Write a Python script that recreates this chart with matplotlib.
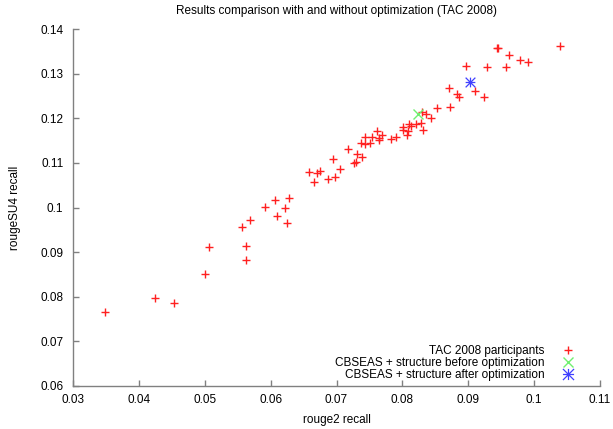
import matplotlib
matplotlib.use("Agg")
import matplotlib.pyplot as plt
from matplotlib.lines import Line2D
from matplotlib.path import Path

plt.rcParams['font.family'] = ['Liberation Sans', 'DejaVu Sans']

part_x = [0.0349, 0.0425, 0.0454, 0.0501, 0.0507, 0.0557, 0.0562, 0.0563, 0.0569, 0.0592,
          0.0606, 0.0610, 0.0622, 0.0625, 0.0628, 0.0659, 0.0670, 0.0675, 0.0666, 0.0687,
          0.0698, 0.0706, 0.0695, 0.0718, 0.0727, 0.0729, 0.0731, 0.0738, 0.0737, 0.0744,
          0.0743, 0.0751, 0.0754, 0.0761, 0.0765, 0.0764, 0.0769, 0.0782, 0.0791, 0.0801,
          0.0801, 0.0807, 0.0809, 0.0813, 0.0810, 0.0820, 0.0829, 0.0832, 0.0830, 0.0836,
          0.0843, 0.0852, 0.0873, 0.0871, 0.0883, 0.0886, 0.0910, 0.0924, 0.0897, 0.0928,
          0.0957, 0.0945, 0.0944, 0.0962, 0.0978, 0.0991, 0.1040]
part_y = [0.0765, 0.0797, 0.0786, 0.0850, 0.0912, 0.0956, 0.0914, 0.0883, 0.0973, 0.1002,
          0.1017, 0.0981, 0.0998, 0.0965, 0.1021, 0.1080, 0.1077, 0.1083, 0.1057, 0.1065,
          0.1068, 0.1086, 0.1109, 0.1131, 0.1101, 0.1103, 0.1119, 0.1114, 0.1144, 0.1158,
          0.1142, 0.1144, 0.1158, 0.1172, 0.1152, 0.1157, 0.1163, 0.1153, 0.1158, 0.1181,
          0.1174, 0.1163, 0.1172, 0.1183, 0.1187, 0.1187, 0.1189, 0.1173, 0.1215, 0.1209,
          0.1202, 0.1223, 0.1226, 0.1268, 0.1255, 0.1247, 0.1262, 0.1249, 0.1318, 0.1315,
          0.1315, 0.1359, 0.1357, 0.1342, 0.1330, 0.1326, 0.1363]
before_x = [0.0823]
before_y = [0.1209]
after_x = [0.0902]
after_y = [0.1282]

labels = ["TAC 2008 participants",
          "CBSEAS + structure before optimization",
          "CBSEAS + structure after optimization"]
title = "Results comparison with and without optimization (TAC 2008)"
xticks = [0.03, 0.04, 0.05, 0.06, 0.07, 0.08, 0.09, 0.1, 0.11]
yticks = [0.06, 0.07, 0.08, 0.09, 0.1, 0.11, 0.12, 0.13, 0.14]

fs = 8.5
fig = plt.figure(figsize=(6.13, 4.29), dpi=100)
ax = fig.add_axes([73/613, 1-385.7/429, (600-73)/613, (385.7-29.3)/429])

red = '#ff2020'
green = '#70f070'
blue = '#4040ff'
M, L = Path.MOVETO, Path.LINETO
star = Path([(-1, 0), (1, 0), (0, -1), (0, 1), (-1, -1), (1, 1), (-1, 1), (1, -1)],
            [M, L, M, L, M, L, M, L])

ax.plot(part_x, part_y, linestyle='none', marker='+', markersize=5.5, mew=1.0, color=red)
ax.plot(before_x, before_y, linestyle='none', marker='x', markersize=6.5, mew=1.0, color=green)
ax.plot(after_x, after_y, linestyle='none', marker=star, markersize=7, mew=0.9, color=blue)

ax.set_xlim(0.03, 0.11)
ax.set_ylim(0.06, 0.14)
ax.set_xticks(xticks)
ax.set_xticklabels(['%g' % v for v in xticks])
ax.set_yticks(yticks)
ax.set_yticklabels(['%g' % v for v in yticks])

for s in ['top', 'right']:
    ax.spines[s].set_visible(False)
for s in ['left', 'bottom']:
    ax.spines[s].set_color('#808080')
    ax.spines[s].set_linewidth(1.0)
ax.tick_params(direction='in', length=4, width=1, color='#808080', labelsize=fs)
ax.tick_params(axis='x', pad=6)
ax.tick_params(axis='y', pad=7)

ax.set_xlabel("rouge2 recall", fontsize=fs, labelpad=6)
ax.set_ylabel("rougeSU4 recall", fontsize=fs, labelpad=14)
ax.set_title(title, fontsize=fs, pad=11)

h1 = Line2D([], [], linestyle='none', marker='+', markersize=5.5, mew=1.0, color=red)
h2 = Line2D([], [], linestyle='none', marker='x', markersize=7.5, mew=1.0, color=green)
h3 = Line2D([], [], linestyle='none', marker=star, markersize=8, mew=0.9, color=blue)
leg = ax.legend([h1, h2, h3], labels, loc='lower right', frameon=False,
                markerfirst=False, fontsize=fs, handlelength=2.0, handletextpad=1.0,
                labelspacing=0.0, borderaxespad=0.0, borderpad=0.0,
                bbox_to_anchor=(0.962, 0.013))

fig.savefig("out.png", dpi=100)
